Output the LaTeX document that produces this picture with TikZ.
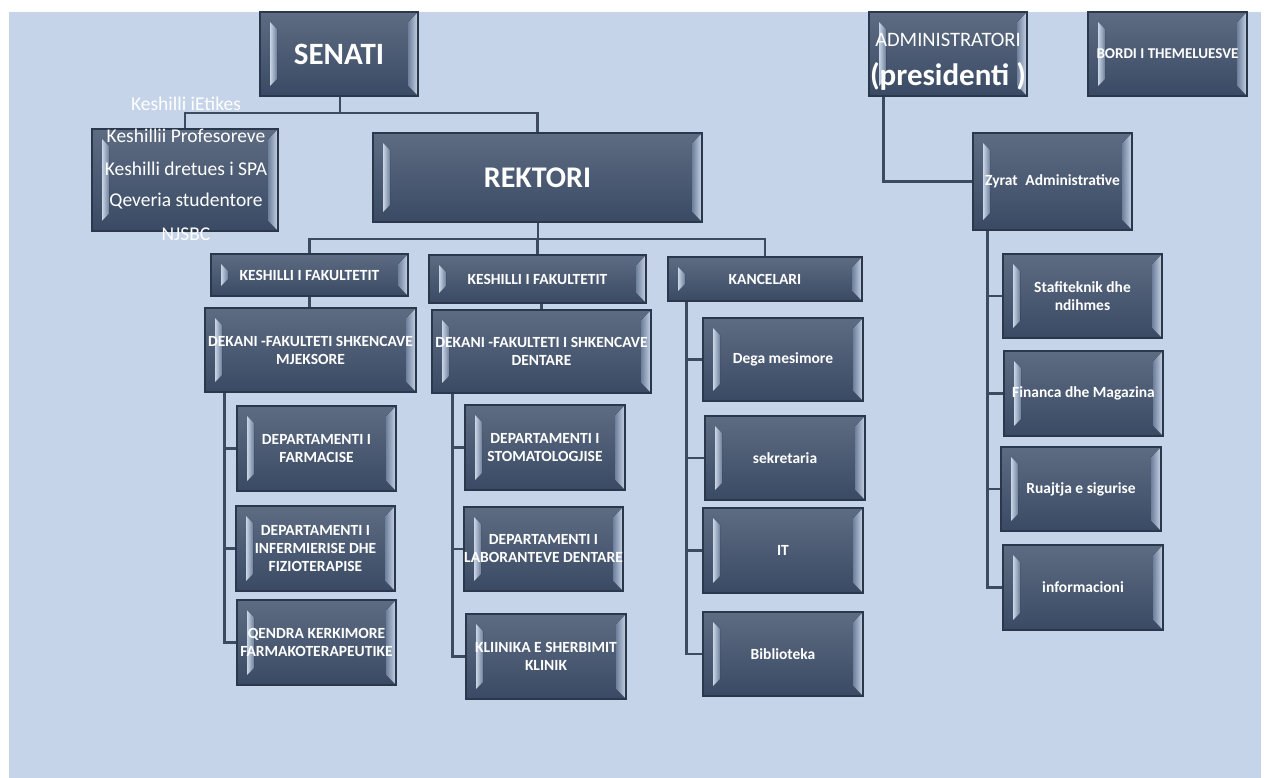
\documentclass[tikz,border=0pt]{standalone}
\usepackage{fontspec}
\setmainfont{Carlito}
\usetikzlibrary{calc}
\definecolor{bg}{HTML}{C6D4EA}
\definecolor{boxtop}{HTML}{5D6C82}
\definecolor{boxbot}{HTML}{3A4A64}
\definecolor{boxline}{HTML}{2B374A}
\definecolor{conn}{HTML}{3D4A5F}
\definecolor{bevdark}{HTML}{6E809C}
\definecolor{bevlight}{HTML}{C9D5E6}
\tikzset{
  org/.style={draw=boxline, line width=1.2pt, top color=boxtop, bottom color=boxbot,
    text=white, align=center, inner sep=0pt,
    path picture={
      \path (path picture bounding box.north west) coordinate (pnw)
            (path picture bounding box.south east) coordinate (pse);
      \fill[left color=bevlight, right color=bevdark] let \p1=(pnw), \p2=(pse) in
        (\x1+10pt,\y1-10pt) -- (\x1+17pt,\y1-17pt) -- (\x1+17pt,\y2+17pt) -- (\x1+10pt,\y2+10pt) -- cycle;
      \fill[left color=bevdark, right color=bevlight] let \p1=(pnw), \p2=(pse) in
        (\x2,\y1) -- (\x2-10pt,\y1-10pt) -- (\x2-10pt,\y2+10pt) -- (\x2,\y2) -- cycle;
    }},
  link/.style={draw=conn, line width=2.2pt},
  smallcap/.style={font=\fontsize{15.5}{18}\selectfont\bfseries},
  lowtxt/.style={font=\fontsize{15.5}{18}\selectfont\bfseries},
  listtxt/.style={text=white, font=\fontsize{19.5}{22}\selectfont, inner sep=0pt},
}
\newcommand\orgbox[7][]{\node[org,#1,minimum width={(#5)-(#3)},minimum height={(#6)-(#4)}] (#2) at ({((#3)+(#5))/2},{((#4)+(#6))/2}) {#7};}
\begin{document}
\begin{tikzpicture}[x=1pt,y=-1pt]
\useasboundingbox (0,0) rectangle (1270,778);
\fill[white] (0,0) rectangle (1270,778);
\fill[bg] (9,12) rectangle (1261,778);

% boxes
\orgbox[font=\fontsize{31}{36}\selectfont\bfseries]{senati}{260}{12}{418}{96}{SENATI}
\orgbox{keshilli}{92}{129}{278}{231}{}
\orgbox[font=\fontsize{30}{36}\selectfont\bfseries]{rektori}{373}{133}{702}{222}{REKTORI}
\orgbox[smallcap]{kf1}{211}{254}{408}{296}{KESHILLI I FAKULTETIT}
\orgbox[smallcap]{kf2}{429}{255}{646}{303}{KESHILLI I FAKULTETIT}
\orgbox[smallcap]{kanc}{668}{257}{862}{301}{KANCELARI}
\orgbox[smallcap]{dek1}{205}{308}{416}{392}{DEKANI -FAKULTETI SHKENCAVE\\MJEKSORE}
\orgbox[smallcap]{dek2}{432}{310}{651}{393}{DEKANI -FAKULTETI I SHKENCAVE\\DENTARE}
\orgbox[smallcap]{d1}{237}{406}{396}{491}{DEPARTAMENTI I\\FARMACISE}
\orgbox[smallcap]{d2}{236}{506}{395}{591}{DEPARTAMENTI I\\INFERMIERISE DHE\\FIZIOTERAPISE}
\orgbox[smallcap]{d3}{237}{600}{396}{685}{QENDRA KERKIMORE\\FARMAKOTERAPEUTIKE}
\orgbox[smallcap]{d4}{465}{405}{625}{490}{DEPARTAMENTI I\\STOMATOLOGJISE}
\orgbox[smallcap]{d5}{464}{507}{623}{591}{DEPARTAMENTI I\\LABORANTEVE DENTARE}
\orgbox[smallcap]{d6}{466}{614}{626}{699}{KLIINIKA E SHERBIMIT\\KLINIK}
\orgbox[lowtxt]{k1}{703}{318}{863}{401}{Dega mesimore}
\orgbox[lowtxt]{k2}{705}{416}{865}{500}{sekretaria}
\orgbox[lowtxt]{k3}{703}{508}{863}{593}{IT}
\orgbox[lowtxt]{k4}{703}{612}{863}{696}{Biblioteka}
\orgbox{admin}{869}{12}{1027}{96}{}
\orgbox[font=\fontsize{15}{18}\selectfont\bfseries]{bordi}{1088}{12}{1247}{96}{BORDI I THEMELUESVE}
\orgbox[lowtxt]{zyrat}{973}{133}{1132}{230}{Zyrat\enspace Administrative}
\orgbox[lowtxt]{z1}{1003}{254}{1162}{338}{Stafiteknik dhe\\ndihmes}
\orgbox[lowtxt]{z2}{1004}{351}{1163}{436}{Financa dhe Magazina}
\orgbox[lowtxt]{z3}{1001}{447}{1161}{531}{Ruajtja e sigurise}
\orgbox[lowtxt]{z4}{1003}{545}{1163}{630}{informacioni}

% texts of the administrator box
\node[text=white, inner sep=0pt, font=\fontsize{20.5}{22}\selectfont] (adm1) at (948,40) {ADMINISTRATORI};
\node[text=white, inner sep=0pt, font=\fontsize{31}{32}\selectfont\bfseries] (adm2) at (948,76) {(presidenti )};

% list texts over the keshilli box
\node[listtxt] (kl1) at (186,104) {Keshilli iEtikes};
\node[listtxt] (kl2) at (186,136) {Keshillii Profesoreve};
\node[listtxt] (kl3) at (186,169) {Keshilli dretues i SPA};
\node[listtxt] (kl4) at (186,201) {Qeveria studentore};
\node[listtxt] (kl5) at (186,234) {NJSBC};

% connectors
\coordinate (sj) at (340,113);
\draw[link] (senati.south -| sj) -- (sj);
\draw[link] (keshilli.north) |- (sj) -| (rektori.north);
\coordinate (rj) at (538,239);
\draw[link] (rektori.south -| rj) -- (rj);
\draw[link] (kf1.north) |- (rj) -| (kanc.north);
\draw[link] (kf2.north) -- (kf2.north |- rj);
\draw[link] (kf1.south) -- (kf1.south |- dek1.north);
\draw[link] (dek2.north) -- (dek2.north |- kf2.south);

\coordinate (c1) at ($(dek1.south west)+(20,0)$);
\draw[link] (c1) |- (d1.west);
\draw[link] (c1) |- (d2.west);
\draw[link] (c1) |- (d3.west);

\coordinate (c2) at ($(dek2.south west)+(21,0)$);
\draw[link] (c2) |- (d4.west);
\draw[link] (c2) |- (d5.west);
\draw[link] (c2) |- (d6.west);

\coordinate (c3) at ($(kanc.south west)+(19,0)$);
\draw[link] (c3) |- (k1.west);
\draw[link] (c3) |- (k2.west);
\draw[link] (c3) |- (k3.west);
\draw[link] (c3) |- (k4.west);

\coordinate (c4) at ($(admin.south west)+(15,0)$);
\draw[link] (c4) |- (zyrat.west);

\coordinate (c5) at ($(zyrat.south west)+(15,0)$);
\draw[link] (c5) |- (z1.west);
\draw[link] (c5) |- (z2.west);
\draw[link] (c5) |- (z3.west);
\draw[link] (c5) |- (z4.west);
\end{tikzpicture}
\end{document}
